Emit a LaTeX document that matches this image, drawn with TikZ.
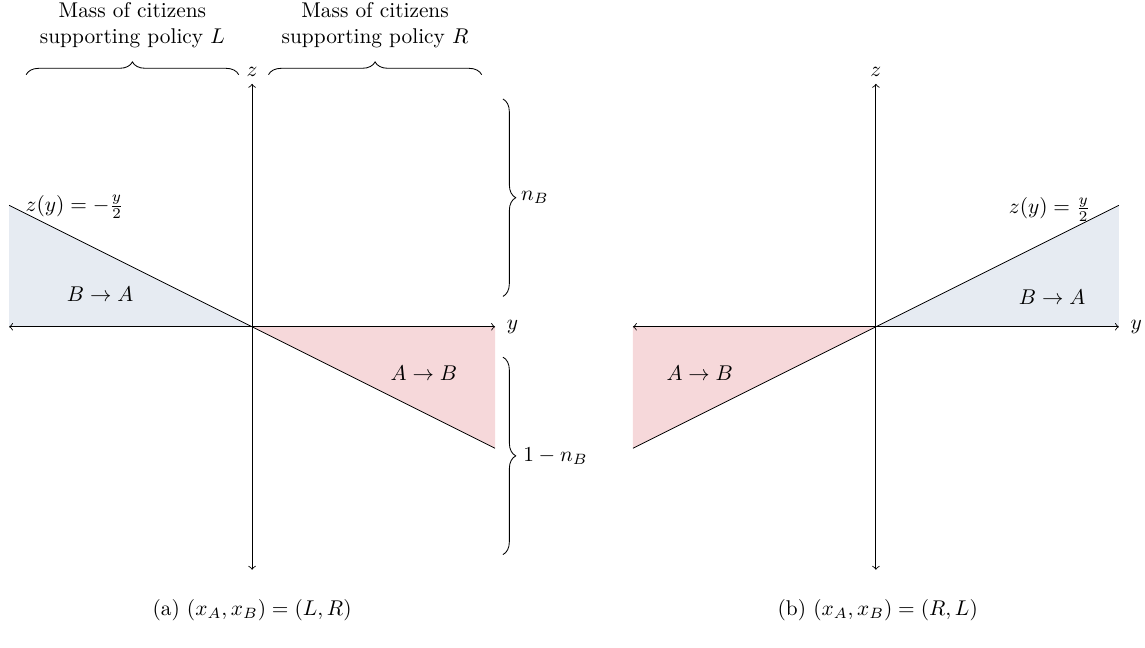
\documentclass[tikz,border=0pt]{standalone}
\usepackage{amsmath,amssymb,amsfonts}
\usepackage{tikz}
\usetikzlibrary{arrows, calc, positioning, decorations.pathreplacing}
\definecolor{baShade}{RGB}{230,235,242}
\definecolor{abShade}{RGB}{246,216,218}
\tikzset{
    axis/.style={<->},
    regionBA/.style={fill=baShade},
    regionAB/.style={fill=abShade},
    bracebox/.style={decorate, decoration={brace, amplitude=6pt}},
    masslabel/.style={align=center}
}

\begin{document}
\begin{tikzpicture}
        \useasboundingbox (-4.15,-5.28) rectangle (14.70,5.38);

        % Panel (a)
        \coordinate (aO) at (0,0);
        \coordinate (aW) at (-4,0);
        \coordinate (aE) at (4,0);
        \coordinate (aS) at (0,-4);
        \coordinate (aN) at (0,4);
        \coordinate (aTop) at (-4,2);
        \coordinate (aBot) at (4,-2);

        % Shaded regions
        \fill[regionBA] (aW) -- (aTop) -- (aO) -- cycle;
        \fill[regionAB] (aO) -- (aE) -- (aBot) -- cycle;

        % Axes and line
        \draw[axis] (aW) -- (aE) node[right=2pt] (aY) {$y$};
        \draw[axis] (aS) -- (aN) node[above] (aZ) {$z$};
        \draw (aTop) -- (aBot);

        % Labels
        \node (aEq) at (-2.92,1.97) {$z(y) = -\frac{y}{2}$};
        \node (aBA) at (-2.5,0.53) {$B \rightarrow A$};
        \node (aAB) at (2.83,-0.77) {$A \rightarrow B$};

        % Braces
        \coordinate (mL1) at (-3.72,4.15);
        \coordinate (mL2) at (-0.22,4.15);
        \coordinate (mR1) at (0.27,4.15);
        \coordinate (mR2) at (3.78,4.15);
        \draw[bracebox] (mL1) -- (mL2) node[midway, above=9pt, masslabel] (massL) {Mass of citizens\\supporting policy $L$};
        \draw[bracebox] (mR1) -- (mR2) node[midway, above=9pt, masslabel] (massR) {Mass of citizens\\supporting policy $R$};

        \coordinate (nTop) at (4.13,3.75);
        \coordinate (nBot) at (4.13,0.5);
        \coordinate (mTop) at (4.13,-0.5);
        \coordinate (mBot) at (4.13,-3.75);
        \draw[bracebox] (nTop) -- (nBot) node[midway, right=5pt] (nB) {$n_B$};
        \draw[bracebox] (mTop) -- (mBot) node[midway, right=6pt] (mB) {$1 - n_B$};

        \node (capA) at (0,-4.66) {(a) $(x_A, x_B) = (L, R)$};

        % Panel (b)
        \coordinate (bO) at (10.27,0);
        \coordinate (bW) at (6.27,0);
        \coordinate (bE) at (14.27,0);
        \coordinate (bS) at (10.27,-4);
        \coordinate (bN) at (10.27,4);
        \coordinate (bTop) at (14.27,2);
        \coordinate (bBot) at (6.27,-2);

        % Shaded regions
        \fill[regionBA] (bO) -- (bE) -- (bTop) -- cycle;
        \fill[regionAB] (bW) -- (bO) -- (bBot) -- cycle;

        % Axes and line
        \draw[axis] (bW) -- (bE) node[right=2pt] (bY) {$y$};
        \draw[axis] (bS) -- (bN) node[above] (bZ) {$z$};
        \draw (bBot) -- (bTop);

        % Labels
        \node (bEq) at (13.13,1.93) {$z(y) = \frac{y}{2}$};
        \node (bBA) at (13.17,0.48) {$B \rightarrow A$};
        \node (bAB) at (7.37,-0.76) {$A \rightarrow B$};

        \node (capB) at (10.3,-4.66) {(b) $(x_A, x_B) = (R, L)$};
    \end{tikzpicture}
\end{document}
